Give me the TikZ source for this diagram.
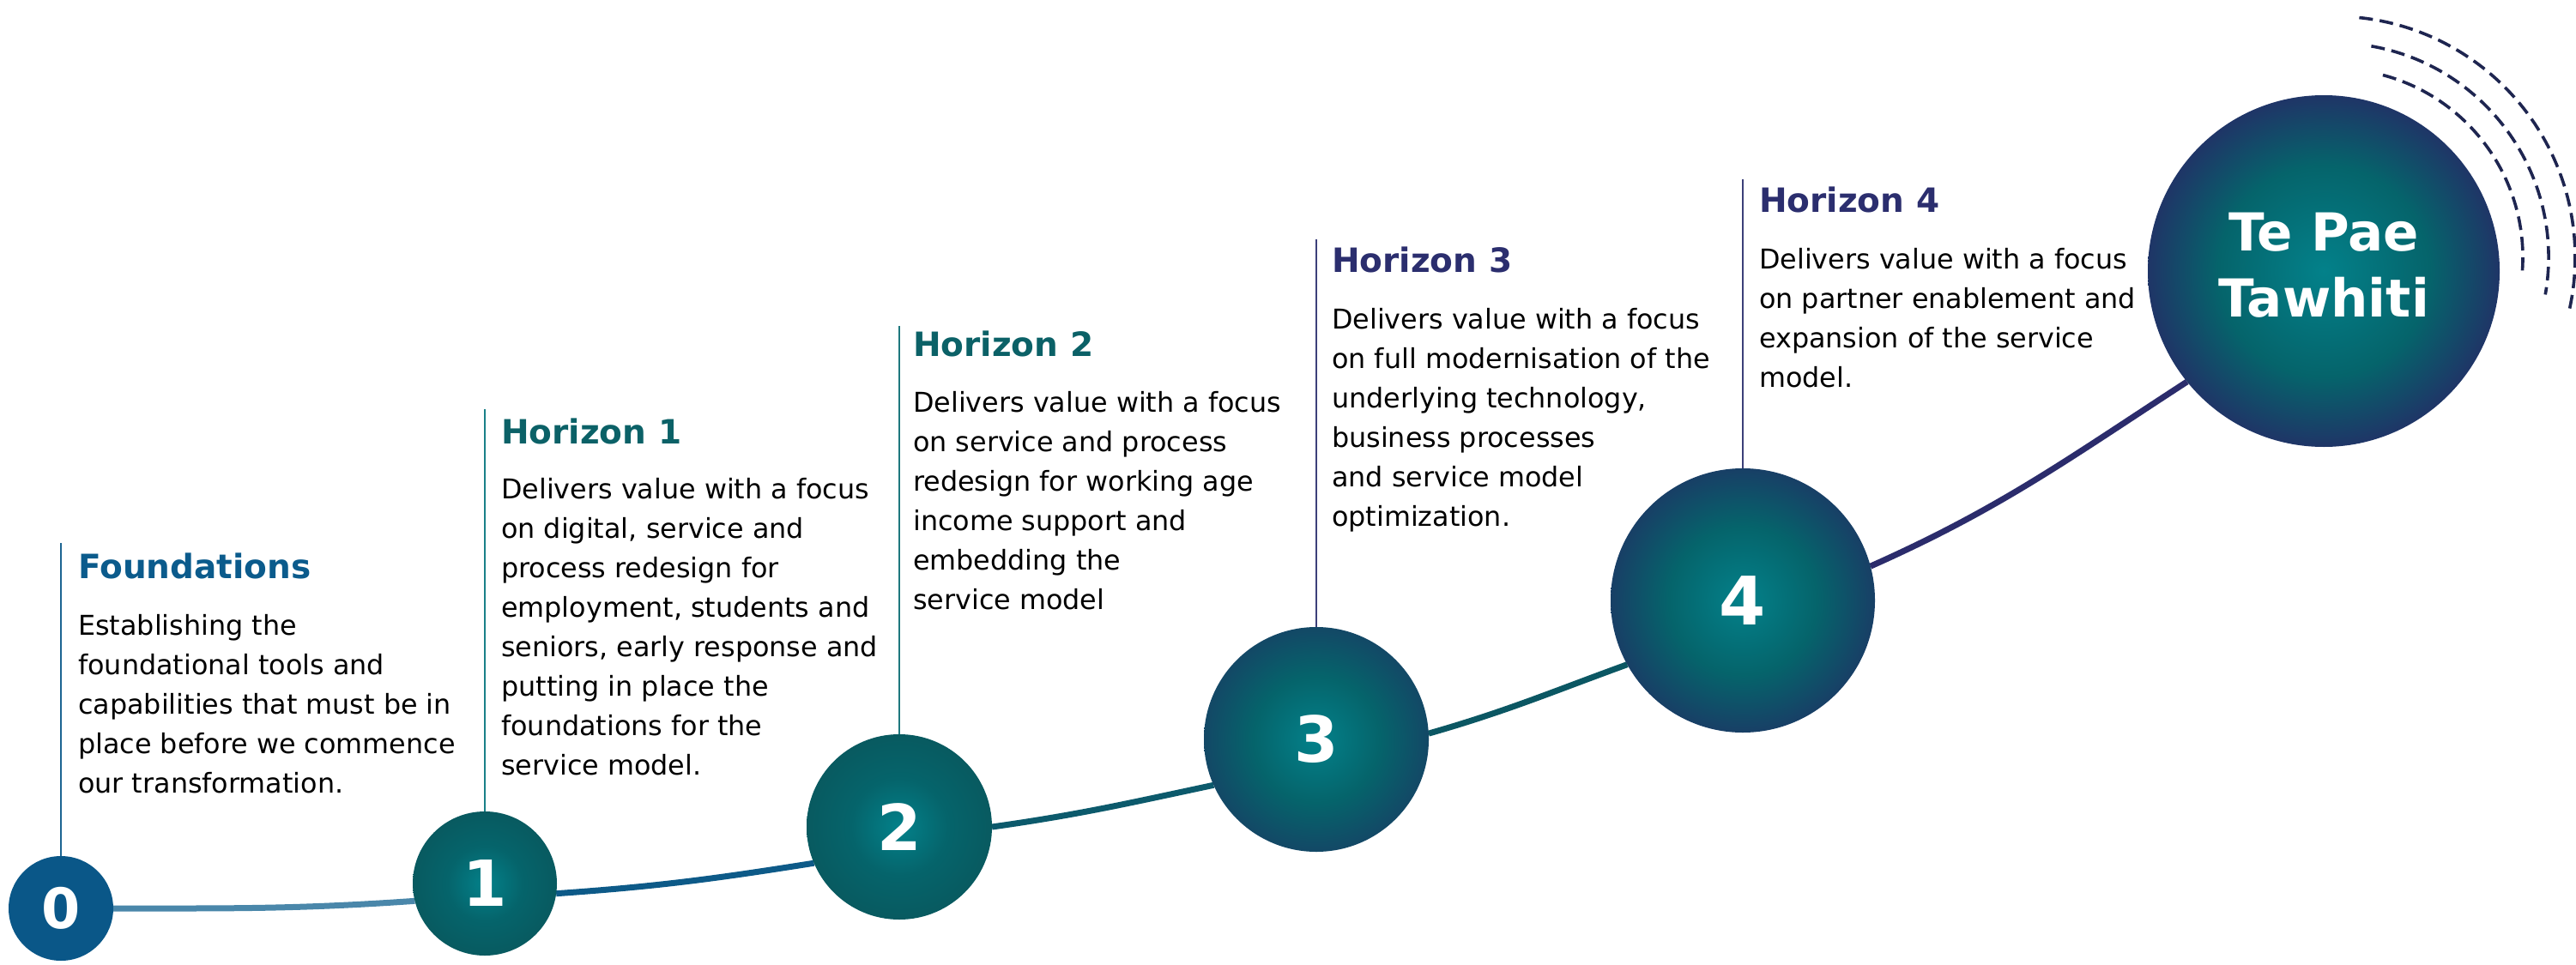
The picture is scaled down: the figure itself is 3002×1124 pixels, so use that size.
\documentclass[tikz,border=0pt]{standalone}
\usepackage{fontspec}
\setmainfont{DejaVu Sans}
\usetikzlibrary{backgrounds}
\definecolor{blueT}{HTML}{0B5B8C}
\definecolor{tealT}{HTML}{0B6167}
\definecolor{navyT}{HTML}{2B2E6E}
\definecolor{lzero}{HTML}{1C6592}
\definecolor{lone}{HTML}{1A8088}
\definecolor{ltwo}{HTML}{1E787E}
\definecolor{lthree}{HTML}{3C4079}
\definecolor{cfill}{HTML}{0A5788}
\definecolor{kza}{HTML}{4A87AA}
\definecolor{kab}{HTML}{0D5A88}
\definecolor{kbc}{HTML}{0C5A6C}
\definecolor{kcd}{HTML}{0B5763}
\definecolor{kdp}{HTML}{2B2C6C}
\definecolor{waveC}{HTML}{1E2550}
\definecolor{sCen}{HTML}{03818A}
\definecolor{sMid}{HTML}{05646B}
\definecolor{sEdgeT}{HTML}{085A60}
\definecolor{sEdgeM}{HTML}{134866}
\definecolor{sEdgeN}{HTML}{183F66}
\definecolor{sEdgeP}{HTML}{1F3567}
\pgfdeclareradialshading{ballT}{\pgfpoint{0bp}{0bp}}{color(0bp)=(sCen); color(13bp)=(sMid); color(25bp)=(sEdgeT); color(50bp)=(sEdgeT)}
\pgfdeclareradialshading{ballM}{\pgfpoint{0bp}{0bp}}{color(0bp)=(sCen); color(14bp)=(sMid); color(25bp)=(sEdgeM); color(50bp)=(sEdgeM)}
\pgfdeclareradialshading{ballN}{\pgfpoint{0bp}{0bp}}{color(0bp)=(sCen); color(14bp)=(sMid); color(25bp)=(sEdgeN); color(50bp)=(sEdgeN)}
\pgfdeclareradialshading{ballP}{\pgfpoint{0bp}{0bp}}{color(0bp)=(sCen); color(15bp)=(sMid); color(25bp)=(sEdgeP); color(50bp)=(sEdgeP)}
\begin{document}
\begin{tikzpicture}[x=1pt,y=1pt,
  title/.style={anchor=base west, inner sep=0pt, font=\bfseries\fontsize{39}{46}\selectfont},
  body/.style={anchor=north west, inner sep=0pt, align=left, text=black, font=\fontsize{31.8}{46}\selectfont},
  vline/.style={line width=2.6pt},
  conn/.style={line width=7pt},
  ball/.style={circle, inner sep=0pt, outer sep=0pt, text=white, font=\bfseries\fontsize{74}{80}\selectfont},
  wave/.style={line width=3.6pt, dash pattern=on 16pt off 8pt, color=waveC}]
\useasboundingbox (0,0) rectangle (3002,-1124);

% circles
\node[ball, minimum size=122pt, fill=cfill, font=\bfseries\fontsize{65}{70}\selectfont] (c0) at (71,-1059) {0};
\node[ball, minimum size=168pt, shading=ballT] (c1) at (565,-1030) {1};
\node[ball, minimum size=216pt, shading=ballT] (c2) at (1048,-964) {2};
\node[ball, minimum size=262pt, shading=ballM] (c3) at (1534,-862) {3};
\node[ball, minimum size=308pt, shading=ballN, font=\bfseries\fontsize{78}{80}\selectfont] (c4) at (2031,-700) {4};
\node[ball, minimum size=410pt, shading=ballP] (tp) at (2708,-316) {};
\node[align=center, inner sep=0pt, text=white, font=\bfseries\fontsize{61}{77}\selectfont] (tptext) at ([yshift=7pt]tp.center) {Te Pae\\Tawhiti};

% top coordinates of stems
\coordinate (t0) at (71,-633);
\coordinate (t1) at (565,-477);
\coordinate (t2) at (1048,-380);
\coordinate (t3) at (1534,-279);
\coordinate (t4) at (2031,-209);

\begin{scope}[on background layer]
\draw[conn, color=kza] (c0.0) to[out=0, in=184] (c1.194);
\draw[conn, color=kab] (c1.-8) to[out=4, in=189] (c2.203);
\draw[conn, color=kbc] (c2.0) to[out=8, in=192] (c3.204);
\draw[conn, color=kcd] (c3.3) to[out=16, in=200] (c4.209);
\draw[conn, color=kdp] (c4.15) to[out=24, in=213] (tp.219);
\draw[vline, color=lzero] (t0) -- (c0.north);
\draw[vline, color=lone] (t1) -- (c1.north);
\draw[vline, color=ltwo] (t2) -- (c2.north);
\draw[vline, color=lthree] (t3) -- (c3.north);
\draw[vline, color=lthree] (t4) -- (c4.north);
\end{scope}

% dashed arcs
\coordinate (wc) at (2720,-300);
\draw[wave] (wc) ++(75:220pt) arc[start angle=75, end angle=-4, radius=220pt];
\draw[wave] (wc) ++(80:250pt) arc[start angle=80, end angle=-10, radius=250pt];
\draw[wave] (wc) ++(84:281pt) arc[start angle=84, end angle=-13, radius=281pt];

% titles
\node[title, text=blueT] (h0) at (91,-674) {Foundations};
\node[title, text=tealT] (h1) at (584,-517) {Horizon 1};
\node[title, text=tealT] (h2) at (1064,-415) {Horizon 2};
\node[title, text=navyT] (h3) at (1552,-317) {Horizon 3};
\node[title, text=navyT] (h4) at (2050,-247) {Horizon 4};

% bodies
\node[body] (b0) at (91,-708) {\rule{0pt}{32pt}Establishing the\\foundational tools and\\capabilities that must be in\\place before we commence\\our transformation.};
\node[body] (b1) at (584,-549) {\rule{0pt}{32pt}Delivers value with a focus\\on digital, service and\\process redesign for\\employment, students and\\seniors, early response and\\putting in place the\\foundations for the\\service model.};
\node[body] (b2) at (1064,-448) {\rule{0pt}{32pt}Delivers value with a focus\\on service and process\\redesign for working age\\income support and\\embedding the\\service model};
\node[body] (b3) at (1552,-351) {\rule{0pt}{32pt}Delivers value with a focus\\on full modernisation of the\\underlying technology,\\business processes\\and service model\\optimization.};
\node[body] (b4) at (2050,-281) {\rule{0pt}{32pt}Delivers value with a focus\\on partner enablement and\\expansion of the service\\model.};
\end{tikzpicture}
\end{document}
